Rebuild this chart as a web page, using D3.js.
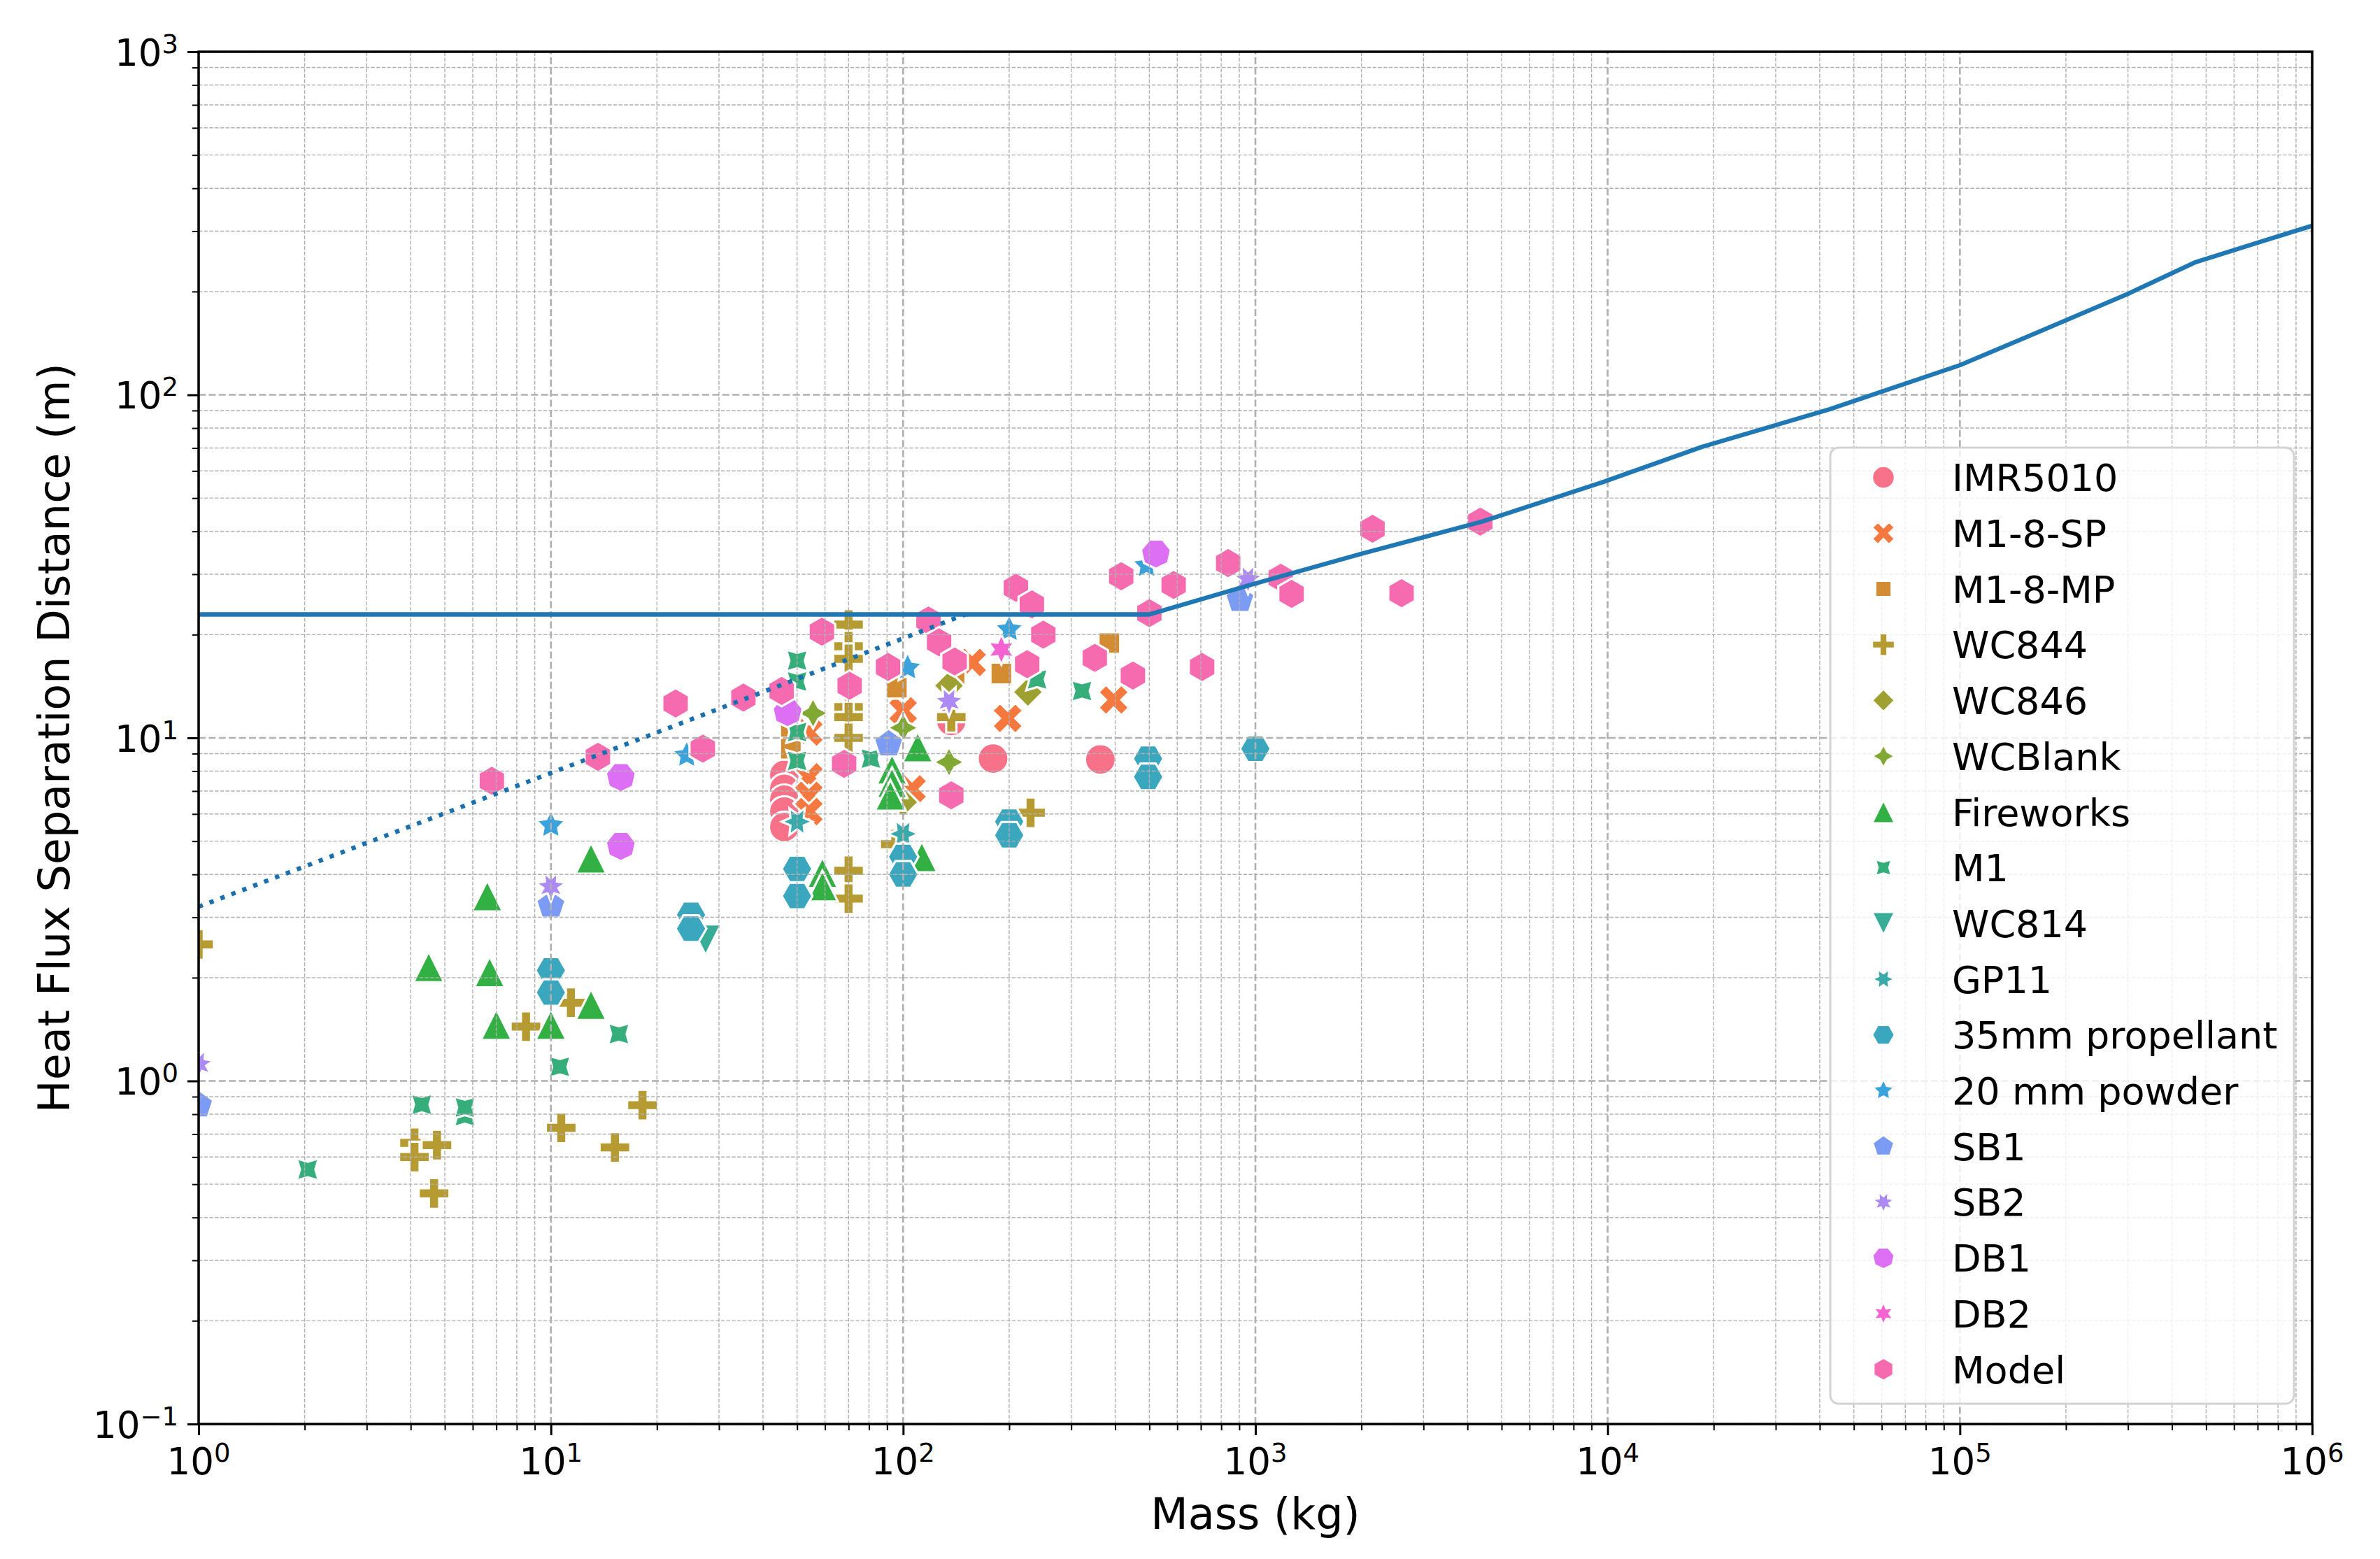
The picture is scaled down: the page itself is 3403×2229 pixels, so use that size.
<!DOCTYPE html>
<html>
<head>
<meta charset="utf-8">
<script src="https://cdn.jsdelivr.net/npm/d3@7"></script>
<style>
  body { margin: 0; background: #fff; }
  text { font-family: "DejaVu Sans", sans-serif; fill: #000; }
</style>
</head>
<body>
<script>
const width = 3403, height = 2229;
const margin = {top: 74, right: 97, bottom: 193, left: 284};

// ---- data: [mass (kg), separation distance (m)] ----
const seriesNames = ["IMR5010", "M1-8-SP", "M1-8-MP", "WC844", "WC846", "WCBlank",
  "Fireworks", "M1", "WC814", "GP11", "35mm propellant", "20 mm powder",
  "SB1", "SB2", "DB1", "DB2", "Model"];

const imr5010 = [[46, 7.8], [46, 7.1], [46, 6.6], [46, 6.1], [46, 5.5], [137, 11.2], [180, 8.7], [363, 8.65]];
const m18sp = [[54, 10.4], [54, 7.7], [54, 6.8], [54, 6.1], [100, 12.0], [106, 7.1], [157, 16.6], [198, 11.4], [396, 12.9]];
const m18mp = [[48, 10.2], [48, 9.3], [96, 14.0], [140, 15.0], [190, 15.4], [385, 18.9]];
const wc844 = [[1, 2.5], [4.1, 0.66], [4.1, 0.6], [4.75, 0.65], [4.66, 0.47], [8.5, 1.44], [10.7, 0.73],
  [11.4, 1.69], [15.2, 0.64], [18.2, 0.85], [70, 21.4], [70, 18.5], [70, 17.0], [70, 12.3], [70, 11.5],
  [70, 10.0], [70, 4.1], [70, 3.4], [95, 4.9], [137, 11.5], [230, 6.05]];
const wc846 = [[100, 6.5], [135, 14.2], [226, 13.6]];
const wcBlank = [[55.5, 11.8], [100, 10.7], [135, 8.5]];
const fireworks = [[4.5, 2.15], [6.6, 3.46], [6.7, 2.08], [7.0, 1.46], [10, 1.46], [13, 4.46], [13, 1.67],
  [59, 4.05], [59, 3.7], [93, 8.1], [93, 7.4], [92, 6.8], [110, 9.4], [113, 4.5]];
const m1 = [[2.04, 0.552], [4.3, 0.853], [5.7, 0.79], [5.7, 0.837], [10.6, 1.1], [15.6, 1.37], [50, 16.8],
  [50, 14.6], [50, 10.4], [50, 8.57], [81, 8.7], [240, 14.8], [322, 13.7]];
const wc814 = [[27.5, 2.58]];
const gp11 = [[50, 5.7], [100, 5.25]];
const propellant35 = [[10, 2.1], [10, 1.81], [25, 3.05], [25, 2.78], [50, 4.15], [50, 3.46], [100, 4.5],
  [100, 4.0], [200, 5.7], [200, 5.2], [496, 8.7], [496, 7.7], [1000, 9.3]];
const powder20 = [[10, 5.56], [24.3, 8.9], [103, 16.0], [200, 20.7], [491, 31.8]];
const sb1 = [[1, 0.85], [10, 3.25], [91, 9.6], [904, 25.3]];
const sb2 = [[1, 1.12], [10, 3.69], [135, 12.8], [953, 29.1]];
const db1 = [[15.8, 7.7], [15.8, 4.85], [47, 11.9], [522, 34.5]];
const db2 = [[190, 18.1]];
const model = [[6.8, 7.5], [13.6, 8.8], [22.6, 12.6], [27, 9.3], [35.2, 13.1], [45.2, 13.7], [58.8, 20.4],
  [68, 8.4], [70.5, 14.2], [90.6, 16.1], [118, 22.0], [126.5, 19.0], [137, 6.8], [140, 16.7], [209, 27.4],
  [232, 24.5], [225, 16.4], [250, 20.0], [350, 17.1], [416, 29.6], [449, 15.2], [500, 23.1], [586, 27.9],
  [706, 16.1], [837, 32.3], [1180, 29.3], [1267, 26.3], [2150, 40.7], [2600, 26.4], [4350, 42.7]];

const seriesData = [imr5010, m18sp, m18mp, wc844, wc846, wcBlank, fireworks, m1, wc814, gp11,
  propellant35, powder20, sb1, sb2, db1, db2, model];

// criterion curves
const limitLine = [[1, 22.9], [500, 22.9], [1000, 28.2], [2000, 34.4], [4400, 42.7], [9600, 55.5],
  [18500, 70.5], [42600, 90.7], [100000, 122], [161000, 150], [300000, 197], [464000, 243],
  [726000, 281], [1000000, 311]];
const dottedLine = [[1, 3.22], [10, 7.9], [100, 19.5], [150, 22.9]];

// ---- styles ----
const seriesColors = ["#f77189", "#f5793f", "#d38c32", "#b69a32", "#9fa032", "#80a832",
  "#33b043", "#36ae7c", "#37ad98", "#39aaa9", "#3aa7bf", "#3ca2dc",
  "#7b9bf4", "#ad89f4", "#dc6ff4", "#f563d2", "#f66bb0"];
// seaborn style markers: symbol or [sides, style(0 polygon / 1 star), angle]
const seriesMarkers = ["o", "X", [4, 0, 45], "P", [4, 0, 0], [4, 1, 0], "^", [4, 1, 45], "v",
  [6, 1, 30], [6, 0, 30], [5, 1, 0], [5, 0, 0], [7, 1, 25.714], [7, 0, 25.714], [6, 1, 0], [6, 0, 0]];

function poly(pts) {
  return "M" + pts.map(p => p[0].toFixed(2) + "," + p[1].toFixed(2)).join("L") + "Z";
}

function markerPath(m, d) {
  const r = d / 2;
  if (m === "o") return `M${r},0A${r},${r} 0 1,1 ${-r},0A${r},${r} 0 1,1 ${r},0Z`;
  if (m === "X") {
    const v = [[-1, -2], [0, -1], [1, -2], [2, -1], [1, 0], [2, 1], [1, 2], [0, 1], [-1, 2], [-2, 1], [-1, 0], [-2, -1]];
    return poly(v.map(p => [p[0] * d / 4, p[1] * d / 4]));
  }
  if (m === "P") {
    const v = [[-1, -3], [1, -3], [1, -1], [3, -1], [3, 1], [1, 1], [1, 3], [-1, 3], [-1, 1], [-3, 1], [-3, -1], [-1, -1]];
    return poly(v.map(p => [p[0] * d / 6, p[1] * d / 6]));
  }
  if (m === "^") return poly([[0, -r], [-r, r], [r, r]]);
  if (m === "v") return poly([[0, r], [-r, -r], [r, -r]]);
  const [n, star, rot] = m;
  const k = star ? 2 * n : n;
  const pts = [];
  for (let i = 0; i < k; i++) {
    const a = Math.PI / 2 + 2 * Math.PI * i / k + rot * Math.PI / 180;
    const rr = star && i % 2 ? r * 0.5 : r;
    pts.push([rr * Math.cos(a), -rr * Math.sin(a)]);
  }
  return poly(pts);
}

const svg = d3.select("body").append("svg")
  .attr("width", width)
  .attr("height", height)
  .attr("viewBox", [0, 0, width, height]);

const x = d3.scaleLog().domain([1, 1e6]).range([margin.left, width - margin.right]);
const y = d3.scaleLog().domain([0.1, 1000]).range([height - margin.bottom, margin.top]);

const x0 = margin.left, x1 = width - margin.right;
const y0 = height - margin.bottom, y1 = margin.top;

svg.append("clipPath").attr("id", "plot")
  .append("rect").attr("x", x0).attr("y", y1).attr("width", x1 - x0).attr("height", y0 - y1);

const isMajor = v => Math.abs(Math.log10(v) - Math.round(Math.log10(v))) < 1e-9;
const xTicks = x.ticks(), yTicks = y.ticks();

// scatter (drawn under the grid, as in matplotlib)
const scatter = svg.append("g").attr("clip-path", "url(#plot)");
seriesData.forEach((pts, i) => {
  const path = markerPath(seriesMarkers[i], 44);
  scatter.append("g")
    .selectAll("path")
    .data(pts)
    .join("path")
      .attr("transform", d => `translate(${x(d[0])},${y(d[1])})`)
      .attr("d", path)
      .attr("fill", seriesColors[i])
      .attr("stroke", "#fff")
      .attr("stroke-width", 3.2)
      .attr("stroke-linejoin", "miter");
});

// grid
const grid = svg.append("g").attr("fill", "none");
grid.selectAll("line.gx")
  .data(xTicks)
  .join("line")
    .attr("x1", d => x(d)).attr("x2", d => x(d))
    .attr("y1", y0).attr("y2", y1)
    .attr("stroke", "#b0b0b0")
    .attr("stroke-width", d => isMajor(d) ? 2.6 : 1.4)
    .attr("stroke-dasharray", d => isMajor(d) ? "10,4.4" : "5.4,2.3");
grid.selectAll("line.gy")
  .data(yTicks)
  .join("line")
    .attr("y1", d => y(d)).attr("y2", d => y(d))
    .attr("x1", x0).attr("x2", x1)
    .attr("stroke", "#b0b0b0")
    .attr("stroke-width", d => isMajor(d) ? 2.6 : 1.4)
    .attr("stroke-dasharray", d => isMajor(d) ? "10,4.4" : "5.4,2.3");

// curves
const line = d3.line().x(d => x(d[0])).y(d => y(d[1]));
const curves = svg.append("g").attr("clip-path", "url(#plot)").attr("fill", "none");
curves.append("path")
  .attr("d", line(dottedLine))
  .attr("stroke", "#1a6fae")
  .attr("stroke-width", 6.3)
  .attr("stroke-dasharray", "6.3,10.4");
curves.append("path")
  .attr("d", line(limitLine))
  .attr("stroke", "#1f77b4")
  .attr("stroke-width", 6.3)
  .attr("stroke-linejoin", "round");

// axes
const xAxis = svg.append("g")
  .attr("transform", `translate(0,${y0})`)
  .call(d3.axisBottom(x).tickValues(xTicks).tickFormat("").tickSizeOuter(0).tickSize(0));
xAxis.select(".domain").remove();
xAxis.selectAll(".tick line")
  .attr("y2", d => isMajor(d) ? 16 : 9)
  .attr("stroke", "#000")
  .attr("stroke-width", d => isMajor(d) ? 3 : 2);

const yAxis = svg.append("g")
  .attr("transform", `translate(${x0},0)`)
  .call(d3.axisLeft(y).tickValues(yTicks).tickFormat("").tickSizeOuter(0).tickSize(0));
yAxis.select(".domain").remove();
yAxis.selectAll(".tick line")
  .attr("x2", d => isMajor(d) ? -16 : -9)
  .attr("stroke", "#000")
  .attr("stroke-width", d => isMajor(d) ? 3 : 2);

function powLabel(sel, v) {
  const e = Math.round(Math.log10(v));
  sel.append("tspan").text("10");
  sel.append("tspan")
    .attr("dy", -18)
    .style("font-size", "37px")
    .text(e < 0 ? "\u2212" + (-e) : String(e));
}

svg.append("g")
  .selectAll("text")
  .data(xTicks.filter(isMajor))
  .join("text")
    .attr("x", d => x(d))
    .attr("y", y0 + 72)
    .attr("text-anchor", "middle")
    .style("font-size", "53px")
    .each(function(d) { powLabel(d3.select(this), d); });

svg.append("g")
  .selectAll("text")
  .data(yTicks.filter(isMajor))
  .join("text")
    .attr("x", x0 - 29)
    .attr("y", d => y(d) + 19.5)
    .attr("text-anchor", "end")
    .style("font-size", "53px")
    .each(function(d) { powLabel(d3.select(this), d); });

// spines
svg.append("rect")
  .attr("x", x0).attr("y", y1)
  .attr("width", x1 - x0).attr("height", y0 - y1)
  .attr("fill", "none")
  .attr("stroke", "#000")
  .attr("stroke-width", 3.5);

// axis labels
svg.append("text")
  .attr("x", (x0 + x1) / 2)
  .attr("y", 2186)
  .attr("text-anchor", "middle")
  .style("font-size", "62px")
  .text("Mass (kg)");

svg.append("text")
  .attr("transform", `translate(99,${(y0 + y1) / 2}) rotate(-90)`)
  .attr("text-anchor", "middle")
  .style("font-size", "62px")
  .text("Heat Flux Separation Distance (m)");

// legend
const legend = svg.append("g");
legend.append("rect")
  .attr("x", 2617).attr("y", 640)
  .attr("width", 663).attr("height", 1367)
  .attr("rx", 12)
  .attr("fill", "#fff")
  .attr("fill-opacity", 0.8)
  .attr("stroke", "#d3d3d3")
  .attr("stroke-width", 3);

const rows = legend.selectAll("g.row")
  .data(seriesNames)
  .join("g")
    .attr("transform", (d, i) => `translate(0,${682.6 + i * 79.7})`);

rows.append("path")
  .attr("transform", "translate(2693,0)")
  .attr("d", (d, i) => markerPath(seriesMarkers[i], 32))
  .attr("fill", (d, i) => seriesColors[i])
  .attr("stroke", "#fff")
  .attr("stroke-width", 2.4);

rows.append("text")
  .attr("x", 2791)
  .attr("y", 19.7)
  .style("font-size", "54px")
  .text(d => d);
</script>
</body>
</html>
